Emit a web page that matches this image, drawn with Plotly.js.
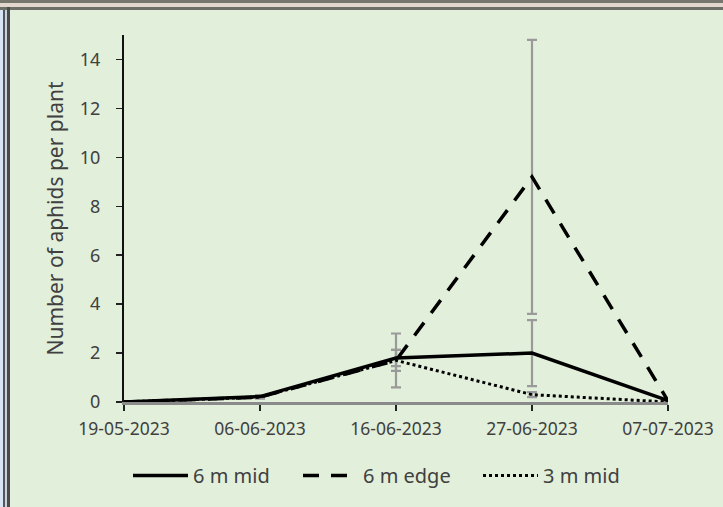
<!DOCTYPE html>
<html>
<head>
<meta charset="utf-8">
<script src="https://cdn.plot.ly/plotly-3.0.1.min.js"></script>
<style>
  html, body { margin: 0; padding: 0; width: 723px; height: 507px; overflow: hidden; background: #e2efda; }
  #frameTop1 { position: absolute; left: 0; top: 0; width: 723px; height: 3px; background: #76766f; }
  #frameTop2 { position: absolute; left: 0; top: 3px; width: 723px; height: 4px; background: #e3d6ce; }
  #frameTop3 { position: absolute; left: 0; top: 7px; width: 723px; height: 3px; background: #6e6e68; }
  #frameLeft1 { position: absolute; left: 0; top: 10px; width: 3px; height: 497px; background: #d8e5f4; }
  #frameLeft2 { position: absolute; left: 3px; top: 10px; width: 2px; height: 497px; background: #55555a; }
  #frameLeft3 { position: absolute; left: 5px; top: 10px; width: 2px; height: 497px; background: #c9d3dc; }
  #frameLeft4 { position: absolute; left: 7px; top: 7px; width: 3px; height: 500px; background: #4a4a4a; }
  #chart { position: absolute; left: 10px; top: 10px; width: 713px; height: 497px; }
</style>
</head>
<body>
<div id="frameTop1"></div><div id="frameTop2"></div><div id="frameTop3"></div>
<div id="frameLeft1"></div><div id="frameLeft2"></div><div id="frameLeft3"></div><div id="frameLeft4"></div>
<div id="chart"></div>
<script>
const dates = ["19-05-2023", "06-06-2023", "16-06-2023", "27-06-2023", "07-07-2023"];

const mid6 = [0, 0.22, 1.8, 2.0, 0.06];
const mid6Err = [0, 0.05, 0.33, 1.35, 0.03];

const edge6 = [0, 0.2, 1.7, 9.2, 0.05];
const edge6Err = [0, 0.05, 1.1, 5.6, 0.03];

const mid3 = [0, 0.2, 1.7, 0.3, 0.0];
const mid3Err = [0, 0.05, 0.43, 0.1, 0.0];

const seriesNames = ["6 m mid", "6 m edge", "3 m mid"];

const font = "Noto Sans, Open Sans, sans-serif";
const textColor = "#404040";
const errColor = "#9a9a9a";

function errTrace(y, err) {
  return {
    x: dates, y: y, type: "scatter", mode: "markers",
    marker: { opacity: 0, size: 1 },
    error_y: { type: "data", array: err, visible: true, color: errColor, thickness: 2.2, width: 5 },
    showlegend: false, hoverinfo: "skip", cliponaxis: false
  };
}

const data = [
  errTrace(mid6, mid6Err),
  errTrace(edge6, edge6Err),
  errTrace(mid3, mid3Err),
  { x: dates, y: mid6, name: seriesNames[0], type: "scatter", mode: "lines", legend: "legend",
    line: { color: "#000000", width: 3.5 }, cliponaxis: false },
  { x: dates, y: edge6, name: seriesNames[1], type: "scatter", mode: "lines", legend: "legend2",
    line: { color: "#000000", width: 3.5, dash: "16px,12px" }, cliponaxis: false },
  { x: dates, y: mid3, name: seriesNames[2], type: "scatter", mode: "lines", legend: "legend3",
    line: { color: "#000000", width: 3, dash: "3px,3px" }, cliponaxis: false }
];

function legendAt(x) {
  return {
    orientation: "h", x: x, xanchor: "left", y: -0.2, yanchor: "middle",
    font: { family: font, size: 20, color: textColor },
    itemwidth: 55, bgcolor: "rgba(0,0,0,0)"
  };
}

const layout = {
  width: 713, height: 497,
  margin: { l: 114, r: 55, t: 25, b: 103 },
  paper_bgcolor: "#e2efda",
  plot_bgcolor: "#e2efda",
  font: { family: font, color: textColor, size: 17 },
  showlegend: true,
  xaxis: {
    type: "category", range: [0, 4],
    showgrid: false, zeroline: false,
    showline: true, linecolor: "#8a8a8a", linewidth: 3,
    ticks: "outside", ticklen: 6, tickcolor: "#222222", tickwidth: 1.5,
    tickfont: { family: font, size: 17.5, color: textColor },
    ticklabelstandoff: 3
  },
  yaxis: {
    range: [0, 15], dtick: 2, tick0: 0,
    showgrid: false, zeroline: false,
    showline: true, linecolor: "#111111", linewidth: 2,
    ticks: "outside", ticklen: 6, tickcolor: "#222222", tickwidth: 1.5,
    tickfont: { family: font, size: 18, color: textColor },
    ticklabelstandoff: 12,
    title: { text: "Number of aphids per plant", font: { family: font, size: 21, color: textColor }, standoff: 10 }
  },
  legend: legendAt((128 - 124) / 544),
  legend2: legendAt((298 - 124) / 544),
  legend3: legendAt((478 - 124) / 544)
};

Plotly.newPlot("chart", data, layout, { displayModeBar: false, staticPlot: true });
</script>
</body>
</html>
